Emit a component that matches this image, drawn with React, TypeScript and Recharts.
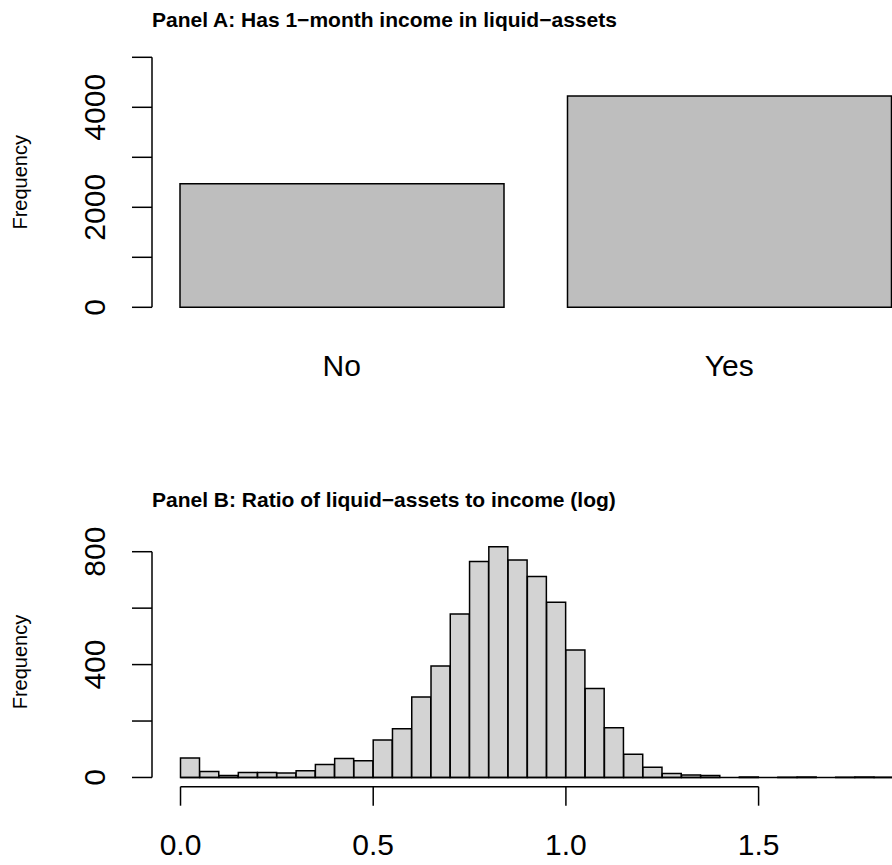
import { BarChart, Bar, XAxis, YAxis, ReferenceLine } from 'recharts';

const FONT = '"Liberation Sans", Arial, Helvetica, sans-serif';

// Panel A: has 1-month income in liquid assets
const answers = ['No', 'Yes'];
const answerCounts = [2472, 4226];
const panelATicks = [0, 1000, 2000, 3000, 4000, 5000];
const panelALabeled = [0, 2000, 4000];

// Panel B: histogram of log ratio, bins of width 0.05
const BIN_WIDTH = 0.05;
const binStarts = [
    0, 0.05, 0.1, 0.15, 0.2, 0.25, 0.3, 0.35, 0.4, 0.45,
    0.5, 0.55, 0.6, 0.65, 0.7, 0.75, 0.8, 0.85, 0.9, 0.95,
    1.0, 1.05, 1.1, 1.15, 1.2, 1.25, 1.3, 1.35, 1.4, 1.45,
    1.5, 1.55, 1.6, 1.65, 1.7, 1.75, 1.8,
];
const binCounts = [
    69, 21, 7, 18, 18, 16, 24, 46, 67, 59,
    133, 173, 285, 395, 579, 765, 818, 771, 712, 621,
    452, 315, 176, 82, 36, 14, 9, 7, 0, 2,
    0, 1, 2, 0, 1, 2, 1,
];
const panelBYTicks = [0, 200, 400, 600, 800];
const panelBYLabeled = [0, 400, 800];
const panelBXTicks = [0, 0.5, 1, 1.5];
const panelBXLabels = ['0.0', '0.5', '1.0', '1.5'];

// plot region like R: data range stretched 4% on each side
const B_X_DOMAIN: [number, number] = [-0.074, 1.924];
const B_Y_DOMAIN: [number, number] = [-32.7, 850.7];

const barData = answers.map((a, i) => ({ answer: a, count: answerCounts[i] }));
const histData = binStarts.map((b, i) => ({ bin: b, count: binCounts[i] }));

const axisStroke = { stroke: '#000', strokeWidth: 1.5 };

function RotatedYTick({ x, y, payload, labeled }: any) {
    if (!labeled.includes(payload.value)) return null;
    return (
        <text
            x={x}
            y={y}
            transform={`rotate(-90 ${x} ${y})`}
            textAnchor="middle"
            fontSize={30}
            fontFamily={FONT}
            fill="#000"
        >
            {payload.value}
        </text>
    );
}

function PlainXTick({ x, y, payload, text }: any) {
    return (
        <text x={x} y={y} textAnchor="middle" fontSize={30} fontFamily={FONT} fill="#000">
            {text ?? payload.value}
        </text>
    );
}

function FrequencyLabel({ viewBox }: any) {
    if (!viewBox) return null;
    const x = viewBox.x + 27;
    const y = viewBox.y + viewBox.height / 2;
    return (
        <text
            x={x}
            y={y}
            transform={`rotate(-90 ${x} ${y})`}
            textAnchor="middle"
            fontSize={20}
            fontFamily={FONT}
            fill="#000"
        >
            Frequency
        </text>
    );
}

const titleStyle: React.CSSProperties = {
    position: 'absolute',
    left: 152,
    fontFamily: FONT,
    fontWeight: 'bold',
    fontSize: 21,
    lineHeight: '21px',
    whiteSpace: 'nowrap',
    color: '#000',
};

export default function App() {
    const lastBinEnd = binStarts[binStarts.length - 1] + BIN_WIDTH;

    return (
        <div
            style={{
                position: 'absolute',
                left: 0,
                top: 0,
                width: 892,
                height: 865,
                overflow: 'hidden',
                background: '#fff',
                fontFamily: FONT,
            }}
        >
            <div style={{ ...titleStyle, top: 9 }}>Panel A: Has 1−month income in liquid−assets</div>
            <div style={{ ...titleStyle, top: 489 }}>Panel B: Ratio of liquid−assets to income (log)</div>

            {/* Panel A */}
            <div style={{ position: 'absolute', left: 0, top: 0 }}>
                <BarChart
                    width={923}
                    height={400}
                    data={barData}
                    margin={{ top: 57.3, right: 0, bottom: 0, left: 0 }}
                    barCategoryGap={32}
                >
                    <XAxis
                        dataKey="answer"
                        type="category"
                        height={92.7}
                        padding={{ left: -4, right: 0 }}
                        axisLine={false}
                        tickLine={false}
                        tickSize={0}
                        tickMargin={69}
                        interval={0}
                        tick={(p: any) => <PlainXTick {...p} />}
                    />
                    <YAxis
                        width={152}
                        type="number"
                        domain={[0, 5000]}
                        ticks={panelATicks}
                        interval={0}
                        axisLine={axisStroke}
                        tickLine={axisStroke}
                        tickSize={20}
                        tickMargin={26.5}
                        tick={(p: any) => <RotatedYTick {...p} labeled={panelALabeled} />}
                        label={<FrequencyLabel />}
                    />
                    <Bar
                        dataKey="count"
                        fill="#bebebe"
                        stroke="#000"
                        strokeWidth={1.5}
                        isAnimationActive={false}
                    />
                </BarChart>
            </div>

            {/* Panel B */}
            <div style={{ position: 'absolute', left: 0, top: 420 }}>
                <BarChart
                    width={922}
                    height={445}
                    data={histData}
                    margin={{ top: 117.4, right: 0, bottom: 0, left: 0 }}
                    barCategoryGap={0}
                    barGap={0}
                >
                    <XAxis
                        xAxisId="num"
                        dataKey="bin"
                        type="number"
                        domain={B_X_DOMAIN}
                        allowDataOverflow
                        ticks={panelBXTicks}
                        interval={0}
                        height={78.3}
                        axisLine={false}
                        tickLine={axisStroke}
                        tickSize={19}
                        tickMargin={49}
                        tick={(p: any) => (
                            <PlainXTick {...p} text={panelBXLabels[panelBXTicks.indexOf(p.payload.value)]} />
                        )}
                    />
                    <XAxis
                        xAxisId="bins"
                        dataKey="bin"
                        type="category"
                        hide
                        height={0}
                        padding={{ left: 28.5, right: 28.5 }}
                    />
                    <YAxis
                        width={152}
                        type="number"
                        domain={B_Y_DOMAIN}
                        allowDataOverflow
                        ticks={panelBYTicks}
                        interval={0}
                        axisLine={false}
                        tickLine={axisStroke}
                        tickSize={20}
                        tickMargin={26.5}
                        tick={(p: any) => <RotatedYTick {...p} labeled={panelBYLabeled} />}
                        label={<FrequencyLabel />}
                    />
                    {/* empty bins show as a flat line on the baseline, like R's hist */}
                    <ReferenceLine
                        xAxisId="num"
                        segment={[
                            { x: binStarts[0], y: 0 },
                            { x: lastBinEnd, y: 0 },
                        ]}
                        stroke="#000"
                        strokeWidth={1.5}
                        ifOverflow="visible"
                    />
                    <Bar
                        xAxisId="bins"
                        dataKey="count"
                        fill="#d3d3d3"
                        stroke="#000"
                        strokeWidth={1.5}
                        isAnimationActive={false}
                    />
                    {/* axis lines only span first to last tick, as in base R */}
                    <ReferenceLine
                        xAxisId="num"
                        segment={[
                            { x: panelBXTicks[0], y: B_Y_DOMAIN[0] },
                            { x: panelBXTicks[panelBXTicks.length - 1], y: B_Y_DOMAIN[0] },
                        ]}
                        stroke="#000"
                        strokeWidth={1.5}
                        ifOverflow="visible"
                    />
                    <ReferenceLine
                        xAxisId="num"
                        segment={[
                            { x: B_X_DOMAIN[0], y: panelBYTicks[0] },
                            { x: B_X_DOMAIN[0], y: panelBYTicks[panelBYTicks.length - 1] },
                        ]}
                        stroke="#000"
                        strokeWidth={1.5}
                        ifOverflow="visible"
                    />
                </BarChart>
            </div>
        </div>
    );
}
